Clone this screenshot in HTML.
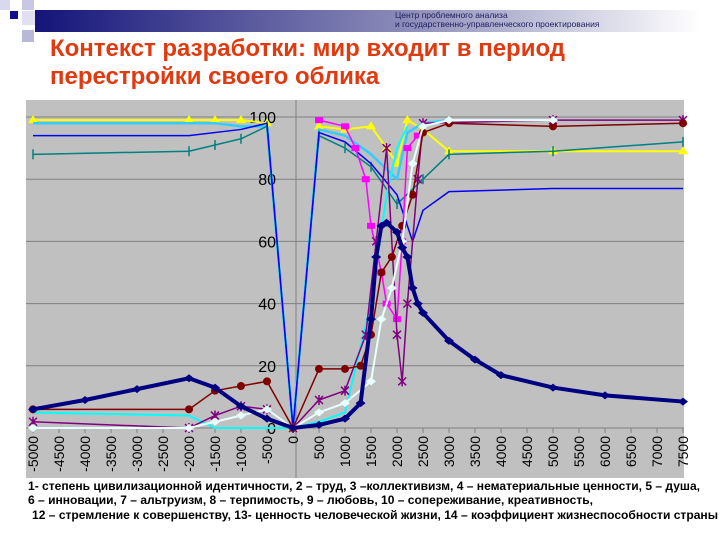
<!DOCTYPE html>
<html><head><meta charset="utf-8">
<style>
body{margin:0;width:720px;height:540px;background:#fff;overflow:hidden;font-family:"Liberation Sans","DejaVu Sans",sans-serif;}
svg{position:absolute;left:0;top:0}
</style></head>
<body>
<svg id="c" width="720" height="540" xmlns="http://www.w3.org/2000/svg">
<defs>
<linearGradient id="hg" x1="0" x2="1" y1="0" y2="0">
<stop offset="0" stop-color="#14147a"/><stop offset="0.55" stop-color="#8a8ab8"/><stop offset="1" stop-color="#ffffff"/>
</linearGradient>
</defs>
<g>
<rect x="35" y="10" width="665" height="22" fill="url(#hg)"/>
<rect x="0" y="0" width="10" height="10" fill="#d8d8ee"/>
<rect x="22" y="0" width="12" height="10" fill="#c8c8e4"/>
<rect x="10" y="11" width="8" height="8" fill="#10108a"/>
<rect x="22" y="11" width="13" height="14" fill="#e0e0f0"/>
<rect x="22" y="30" width="12" height="12" fill="#b8b8d8"/>
</g>
<text x="395" y="18" font-size="8.5" fill="#202060">Центр проблемного анализа</text>
<text x="395" y="27" font-size="8.5" fill="#202060">и государственно-управленческого проектирования</text>
<text x="50" y="56" font-size="24" font-weight="bold" fill="#e03a10">Контекст разработки: мир входит в период</text>
<text x="50" y="84" font-size="24" font-weight="bold" fill="#e03a10">перестройки своего облика</text>
<rect x="26" y="100" width="658" height="378" fill="#c0c0c0"/>
<g id="grid"></g>
<g id="xlab"></g>
<g id="ylab"></g>
<g id="series"></g>
<g font-size="12" font-weight="bold" fill="#000">
<text x="28" y="490" textLength="672" lengthAdjust="spacingAndGlyphs">1- степень цивилизационной идентичности, 2 – труд, 3 –коллективизм, 4 – нематериальные ценности, 5 – душа,</text>
<text x="28" y="504" textLength="565" lengthAdjust="spacingAndGlyphs">6 – инновации, 7 – альтруизм, 8 – терпимость, 9 – любовь, 10 – сопереживание, креативность,</text>
<text x="32" y="519" textLength="686" lengthAdjust="spacingAndGlyphs">12 – стремление к совершенству, 13- ценность человеческой жизни,  14 – коэффициент жизнеспособности страны</text>
</g>
</svg>
<script>
const xTicks=[-5000,-4500,-4000,-3500,-3000,-2500,-2000,-1500,-1000,-500,0,500,1000,1500,2000,2500,3000,3500,4000,4500,5000,5500,6000,6500,7000,7500];
const yTicks=[0,20,40,60,80,100];
const navyX=[-5000,-4000,-3000,-2000,-1500,-1000,-500,0,500,1000,1300,1500,1600,1700,1800,2000,2100,2200,2300,2400,2500,3000,3500,4000,5000,6000,7500];
const navyY=[6,9,12.5,16,13,7,3,0,1,3,8,35,55,65,66,63,58,55,45,40,37,28,22,17,13,10.5,8.5];
const cyanX=[-5000,-2000,-1500,-1000,-500,0,500,1000,1500,2000,2200,2500,3000];
const cyanY=[98,98,98,97,97,0,96,94,88,80,95,98,99];
const yellowX=[-5000,-2000,-1500,-1000,-500,0,500,1000,1500,1800,2000,2200,2500,3000,5000,7500];
const yellowY=[99,99,99,99,98,0,97,96,97,90,85,99,96,89,89,89];
const magX=[500,1000,1200,1400,1500,1700,1800,2000,2100,2200,2400];
const magY=[99,97,90,80,65,50,40,35,60,90,94];
const blueX=[-5000,-2000,-1000,-500,0,500,1000,1500,2000,2300,2500,3000,5000,7500];
const blueY=[94,94,96,98,0,95,92,85,75,60,70,76,77,77];
const tealX=[-5000,-2000,-1500,-1000,-500,0,500,1000,1500,2000,2500,3000,5000,7500];
const tealY=[88,89,91,93,97,0,94,90,84,72,80,88,89,92];
const redX=[-5000,-2000,-1500,-1000,-500,0,500,1000,1300,1500,1700,1900,2100,2300,2500,3000,5000,7500];
const redY=[6,6,12,13.5,15,0,19,19,20,30,50,55,65,75,95,98,97,98];
const purpX=[-5000,-2000,-1500,-1000,-500,0,500,1000,1400,1600,1800,2000,2100,2200,2400,2500,5000,7500];
const purpY=[2,0,4,7,6,0,9,12,30,60,90,30,15,40,80,98,99,99];
const whiteX=[-5000,-2000,-1500,-1000,-500,0,500,1000,1500,1700,1900,2100,2300,2500,3000,5000];
const whiteY=[0,0,2,4,6,0,5,8,15,35,45,60,85,97,99,99];
const turqX=[-5000,-2000,-1500,-500,0,500,1000,1500,1800,2000,2200];
const turqY=[5,4,0,0,0,2,5,40,75,90,97];

const NS="http://www.w3.org/2000/svg";
function X(t){return 293+t*0.052;}
function Y(v){return 428-v*3.11;}
function mk(tag,attrs,parent){const e=document.createElementNS(NS,tag);for(const k in attrs)e.setAttribute(k,attrs[k]);parent.appendChild(e);return e;}
const grid=document.getElementById('grid'),xl=document.getElementById('xlab'),yl=document.getElementById('ylab'),ser=document.getElementById('series');
yTicks.forEach(v=>{
 const l=mk('line',{x1:26,x2:684,y1:Y(v),y2:Y(v),stroke:'#808080','stroke-width':1},grid);
 
 
 const t=mk('text',{x:276,y:Y(v)+6,'font-size':16,'text-anchor':'end',fill:'#000'},yl);
 
 
 t.textContent=v;
});
const ax=mk('line',{x1:296,x2:296,y1:100,y2:478,stroke:'#808080','stroke-width':1},grid);


xTicks.forEach(t=>{
 const x=X(t);
 const tk=mk('line',{x1:x,x2:x,y1:428,y2:433,stroke:'#808080'},grid);
 
 
 const e=mk('text',{x:0,y:0,'font-size':14,fill:'#000','text-anchor':'end',transform:`translate(${x+5},${436}) rotate(-90)`},xl);
 
 
 e.textContent=t;
});
function series(xs,ys,color,w,marker,name){
 const g=mk('g',{},ser);
 
 
 const pts=xs.map((t,i)=>X(t)+','+Y(ys[i])).join(' ');
 const p=mk('polyline',{points:pts,fill:'none',stroke:color,'stroke-width':w,'stroke-linejoin':'round'},g);
 
 
 xs.forEach((t,i)=>{
  const x=X(t),y=Y(ys[i]);let m;
  if(marker==='circle')m=mk('circle',{cx:x,cy:y,r:4,fill:color},g);
  else if(marker==='square')m=mk('rect',{x:x-4,y:y-3,width:8,height:6,fill:color},g);
  else if(marker==='tri')m=mk('polygon',{points:`${x-5},${y+3} ${x+5},${y+3} ${x},${y-5}`,fill:color},g);
  else if(marker==='diamond')m=mk('polygon',{points:`${x-5},${y} ${x},${y-4} ${x+5},${y} ${x},${y+4}`,fill:color},g);
  else if(marker==='star')m=mk('path',{d:`M${x-4} ${y-4}L${x+4} ${y+4}M${x+4} ${y-4}L${x-4} ${y+4}M${x} ${y-5}L${x} ${y+5}`,stroke:color,'stroke-width':1.5},g);
  else if(marker==='plus')m=mk('path',{d:`M${x} ${y-5}L${x} ${y+5}`,stroke:color,'stroke-width':1.5},g);
  if(m){}
 });
}
series(yellowX,yellowY,'#ffff00',2,'tri','series-yellow');
series(cyanX,cyanY,'#33ccff',2.5,null,'series-cyan');
series(tealX,tealY,'#008080',1.5,'plus','series-teal');
series(blueX,blueY,'#0000ff',1.5,null,'series-blue');
series(magX,magY,'#ff00ff',1.5,'square','series-magenta');
series(turqX,turqY,'#00ffff',2,null,'series-turquoise');
series(purpX,purpY,'#800080',1.5,'star','series-purple');
series(redX,redY,'#800000',1.5,'circle','series-darkred');
series(whiteX,whiteY,'#e8ffff',2,'diamond','series-white');
series(navyX,navyY,'#000080',4,'diamond','series-navy');
</script>
</body></html>
